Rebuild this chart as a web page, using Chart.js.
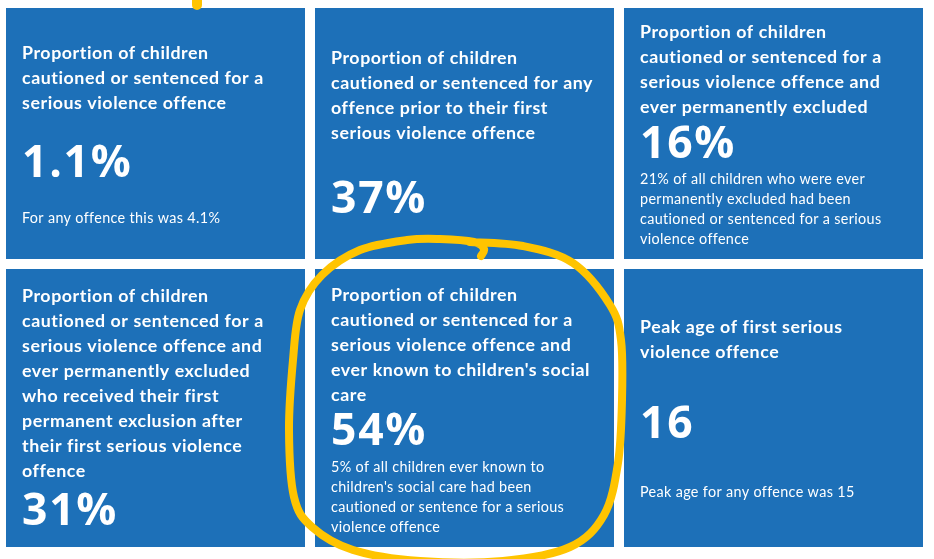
<!DOCTYPE html>
<html>
<head>
<meta charset="utf-8">
<script src="https://cdn.jsdelivr.net/npm/chart.js@4.4.1/dist/chart.umd.min.js"></script>
<style>
html,body{margin:0;padding:0;background:#fff;}
#c{display:block;}
</style>
</head>
<body>
<canvas id="c" width="934" height="559"></canvas>
<script>
// ---- DATA ----
const columns = ['left', 'middle', 'right'];
const rows = ['top', 'bottom'];
const titles = [
  'Proportion of children\ncautioned or sentenced for a\nserious violence offence',
  'Proportion of children\ncautioned or sentenced for any\noffence prior to their first\nserious violence offence',
  'Proportion of children\ncautioned or sentenced for a\nserious violence offence and\never permanently excluded',
  'Proportion of children\ncautioned or sentenced for a\nserious violence offence and\never permanently excluded\nwho received their first\npermanent exclusion after\ntheir first serious violence\noffence',
  'Proportion of children\ncautioned or sentenced for a\nserious violence offence and\never known to children\'s social\ncare',
  'Peak age of first serious\nviolence offence'
];
const values = [1.1, 37, 16, 31, 54, 16];
const units = ['%', '%', '%', '%', '%', ''];
const notes = [
  'For any offence this was 4.1%',
  '',
  '21% of all children who were ever\npermanently excluded had been\ncautioned or sentenced for a serious\nviolence offence',
  '',
  '5% of all children ever known to\nchildren\'s social care had been\ncautioned or sentence for a serious\nviolence offence',
  'Peak age for any offence was 15'
];

// ---- LAYOUT (positions/styles, kept apart from data) ----
const rowBands = [[3, 264], [264, 552]];           // y-extent of each tile row on the (pixel-like) y scale
const textOffsets = [                               // baselines from tile top: title, value, note
  [51, 169, 215], [56, 205, 0], [30, 150, 176],
  [33, 256, 0], [32, 176, 203], [64, 169, 228]
];
const BLUE = '#1d70b8';
const YELLOW = '#ffc400';
const GAP = 5;
const PAD_X = 16;

function fitFont(ctx, weight, family, capTarget, sample, widthTarget) {
  ctx.save();
  ctx.letterSpacing = '0px';
  ctx.font = weight + ' 100px ' + family;
  const cap = ctx.measureText('H').actualBoundingBoxAscent / 100;
  const size = capTarget / cap;
  ctx.font = weight + ' ' + size.toFixed(2) + 'px ' + family;
  const w = ctx.measureText(sample).width;
  ctx.restore();
  const ls = (widthTarget - w) / sample.length;
  return { font: weight + ' ' + size.toFixed(2) + 'px ' + family, ls: ls };
}

const tilePlugin = {
  id: 'tileText',
  afterDatasetsDraw(chart) {
    const ctx = chart.ctx;
    const fam = 'Lato, "Open Sans", sans-serif';
    const famNum = '"Open Sans", Lato, sans-serif';
    const fTitle = fitFont(ctx, '700', fam, 13, 'Proportion of children', 187);
    const fValue = fitFont(ctx, '700', famNum, 32, '54%', 96);
    const fNote = fitFont(ctx, '400', fam, 10.5, '21% of all children who were ever', 225);
    const tiles = [];
    chart.data.datasets.forEach((ds, r) => {
      chart.getDatasetMeta(r).data.forEach((el, c) => {
        const p = el.getProps(['x', 'y', 'base', 'width'], true);
        tiles[r * 3 + c] = {
          left: p.x - p.width / 2 + GAP,
          right: p.x + p.width / 2 - GAP,
          top: Math.min(p.y, p.base) + GAP,
          bottom: Math.max(p.y, p.base) - GAP
        };
      });
    });
    ctx.save();
    ctx.fillStyle = '#ffffff';
    ctx.textBaseline = 'alphabetic';
    ctx.textAlign = 'left';
    tiles.forEach((t, i) => {
      const off = textOffsets[i];
      const x = t.left + PAD_X;
      ctx.font = fTitle.font; ctx.letterSpacing = fTitle.ls + 'px';
      titles[i].split('\n').forEach((line, k) => ctx.fillText(line, x, t.top + off[0] + k * 25));
      ctx.font = fValue.font; ctx.letterSpacing = fValue.ls + 'px';
      ctx.fillText(String(values[i]) + units[i], x, t.top + off[1]);
      if (notes[i]) {
        ctx.font = fNote.font; ctx.letterSpacing = fNote.ls + 'px';
        notes[i].split('\n').forEach((line, k) => ctx.fillText(line, x, t.top + off[2] + k * 20));
      }
    });
    ctx.restore();

    // yellow hand-drawn annotation round the middle bottom tile
    const t5 = tiles[4];
    const loop = [[166,-13],[169,-20],[159,-27],[125,-30],[92,-29],[45,-19],[7,6],[-15,41],[-22,91],[-26,161],
      [-21,228],[-3,258],[38,281],[105,292],[188,292],[255,278],[289,246],[303,194],[307,131],[306,71],
      [295,36],[258,-6],[208,-23],[155,-27]];
    const pts = loop.map(p => [t5.left + p[0], t5.top + p[1]]);
    ctx.save();
    ctx.strokeStyle = YELLOW;
    ctx.lineWidth = 8;
    ctx.lineCap = 'round';
    ctx.lineJoin = 'round';
    ctx.beginPath();
    ctx.moveTo(pts[0][0], pts[0][1]);
    for (let i = 0; i < pts.length - 1; i++) {
      const p0 = pts[Math.max(0, i - 1)], p1 = pts[i], p2 = pts[i + 1], p3 = pts[Math.min(pts.length - 1, i + 2)];
      const c1 = [p1[0] + (p2[0] - p0[0]) / 6, p1[1] + (p2[1] - p0[1]) / 6];
      const c2 = [p2[0] - (p3[0] - p1[0]) / 6, p2[1] - (p3[1] - p1[1]) / 6];
      ctx.bezierCurveTo(c1[0], c1[1], c2[0], c2[1], p2[0], p2[1]);
    }
    ctx.stroke();
    // tip of another mark above the first tile
    const t1 = tiles[0];
    ctx.lineWidth = 10;
    ctx.beginPath();
    ctx.moveTo(t1.left + 191, t1.top - 16);
    ctx.lineTo(t1.left + 191, t1.top - 3);
    ctx.stroke();
    ctx.restore();
  }
};

new Chart(document.getElementById('c'), {
  type: 'bar',
  data: {
    labels: columns,
    datasets: rows.map((r, ri) => ({
      label: r,
      data: columns.map(() => rowBands[ri]),
      backgroundColor: BLUE,
      borderColor: '#ffffff',
      borderWidth: GAP,
      borderSkipped: false,
      inflateAmount: 0,
      grouped: false,
      categoryPercentage: 1,
      barPercentage: 1
    }))
  },
  options: {
    responsive: false,
    animation: false,
    events: [],
    layout: { padding: { left: 1, right: 6, top: 0, bottom: 0 } },
    scales: {
      x: { display: false },
      y: { display: false, reverse: true, min: 0, max: 559 }
    },
    plugins: { legend: { display: false }, tooltip: { enabled: false } }
  },
  plugins: [tilePlugin]
});
</script>
</body>
</html>
